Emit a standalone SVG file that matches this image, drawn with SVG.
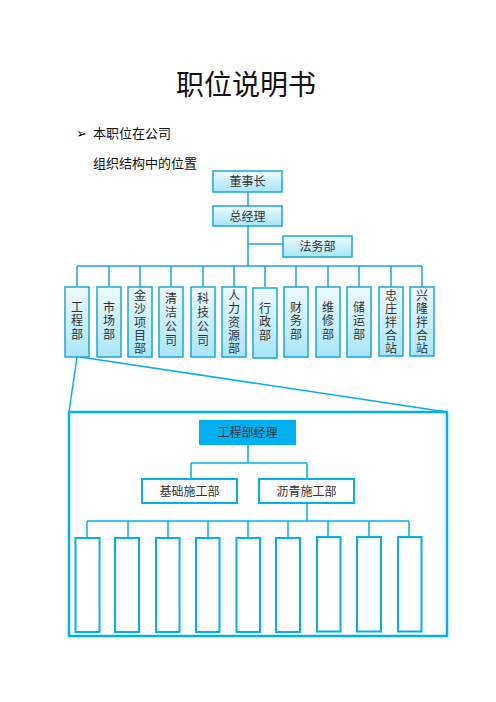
<svg xmlns="http://www.w3.org/2000/svg" width="496" height="702" viewBox="0 0 496 702">
<style>
.t{font-family:"Noto Sans CJK SC","Noto Sans",sans-serif;fill:#333}
.ln{stroke:#1aa6dc;stroke-width:1.5;fill:none}
.ln2{stroke:#00b0f0;stroke-width:1.5;fill:none}
.box{fill:url(#g);stroke:#1aa6dc;stroke-width:1.5}
.wb{fill:#fff;stroke:#00b0f0;stroke-width:2}
.v{font-size:12px;text-anchor:middle}
</style>
<defs>
<linearGradient id="g" x1="0" y1="0" x2="0" y2="1">
<stop offset="0" stop-color="#eefafe"/>
<stop offset="1" stop-color="#a8e6f8"/>
</linearGradient>
</defs>
<text class="t" x="246" y="95" font-size="28" text-anchor="middle" style="fill:#111">职位说明书</text>
<text x="76" y="138" font-size="13" font-family="DejaVu Sans,sans-serif" fill="#000">➢</text>
<text class="t" x="93" y="138" font-size="13" style="fill:#111">本职位在公司</text>
<text class="t" x="93" y="168" font-size="13" style="fill:#111">组织结构中的位置</text>

<g id="connectors">
<path class="ln" d="M248,192V206M248,226V266M248,244H283M77,266H422"/>
<path class="ln" d="M77,266V287M109,266V287M140,266V287M171,266V287M203,266V287M234,266V287M265,266V287M296,266V287M328,266V287M359,266V287M391,266V287M422,266V287"/>
<path class="ln2" d="M77,357L69,412M80,357L447,412" stroke-width="2"/>
<path class="ln2" d="M248,445V463M191,463H307M191,463V479M307,463V479M307,503V521M87,521H409"/>
<path class="ln2" d="M87,521V538M128,521V538M168,521V538M208,521V538M248,521V538M288,521V538M328,521V537M369,521V537M409,521V537"/>
</g>

<g id="n-dongshizhang"><rect class="box" x="213" y="171" width="69" height="21"/><text class="t" x="247.5" y="186" font-size="12" text-anchor="middle">董事长</text></g>
<g id="n-zongjingli"><rect class="box" x="213" y="206" width="69" height="20"/><text class="t" x="247.5" y="220.5" font-size="12" text-anchor="middle">总经理</text></g>
<g id="n-fawubu"><rect class="box" x="283" y="236" width="69" height="21"/><text class="t" x="317.5" y="251" font-size="12" text-anchor="middle">法务部</text></g>

<g id="n-gongchengbu"><rect class="box" x="65" y="287" width="24" height="70"/><text class="t v"><tspan x="77" y="312">工</tspan><tspan x="77" y="325.3">程</tspan><tspan x="77" y="338.6">部</tspan></text></g>
<g id="n-shichangbu"><rect class="box" x="97" y="287" width="24" height="70"/><text class="t v"><tspan x="109" y="312">市</tspan><tspan x="109" y="325.3">场</tspan><tspan x="109" y="338.6">部</tspan></text></g>
<g id="n-jinsha"><rect class="box" x="128" y="287" width="24" height="70"/><text class="t v"><tspan x="140" y="300">金</tspan><tspan x="140" y="313.3">沙</tspan><tspan x="140" y="326.6">项</tspan><tspan x="140" y="339.9">目</tspan><tspan x="140" y="353">部</tspan></text></g>
<g id="n-qingjie"><rect class="box" x="159" y="287" width="24" height="70"/><text class="t v"><tspan x="171" y="303">清</tspan><tspan x="171" y="317">洁</tspan><tspan x="171" y="331">公</tspan><tspan x="171" y="345">司</tspan></text></g>
<g id="n-keji"><rect class="box" x="191" y="287" width="24" height="70"/><text class="t v"><tspan x="203" y="303">科</tspan><tspan x="203" y="317">技</tspan><tspan x="203" y="331">公</tspan><tspan x="203" y="345">司</tspan></text></g>
<g id="n-renli"><rect class="box" x="222" y="287" width="24" height="70"/><text class="t v"><tspan x="234" y="300">人</tspan><tspan x="234" y="313.3">力</tspan><tspan x="234" y="326.6">资</tspan><tspan x="234" y="339.9">源</tspan><tspan x="234" y="353">部</tspan></text></g>
<g id="n-xingzheng"><rect class="box" x="253" y="288" width="24" height="70"/><text class="t v"><tspan x="265" y="313">行</tspan><tspan x="265" y="326.3">政</tspan><tspan x="265" y="339.6">部</tspan></text></g>
<g id="n-caiwu"><rect class="box" x="284" y="287" width="24" height="70"/><text class="t v"><tspan x="296" y="312">财</tspan><tspan x="296" y="325.3">务</tspan><tspan x="296" y="338.6">部</tspan></text></g>
<g id="n-weixiu"><rect class="box" x="316" y="287" width="24" height="70"/><text class="t v"><tspan x="328" y="312">维</tspan><tspan x="328" y="325.3">修</tspan><tspan x="328" y="338.6">部</tspan></text></g>
<g id="n-chuyun"><rect class="box" x="347" y="287" width="24" height="70"/><text class="t v"><tspan x="359" y="312">储</tspan><tspan x="359" y="325.3">运</tspan><tspan x="359" y="338.6">部</tspan></text></g>
<g id="n-zhongzhuang"><rect class="box" x="379" y="287" width="24" height="69"/><text class="t v"><tspan x="391" y="300">忠</tspan><tspan x="391" y="313.3">庄</tspan><tspan x="391" y="326.6">拌</tspan><tspan x="391" y="339.9">合</tspan><tspan x="391" y="353">站</tspan></text></g>
<g id="n-xinglong"><rect class="box" x="410" y="287" width="24" height="69"/><text class="t v"><tspan x="422" y="300">兴</tspan><tspan x="422" y="313.3">隆</tspan><tspan x="422" y="326.6">拌</tspan><tspan x="422" y="339.9">合</tspan><tspan x="422" y="353">站</tspan></text></g>

<g id="n-detail"><rect x="69" y="412" width="378" height="224" fill="none" stroke="#00b0f0" stroke-width="2.5"/></g>
<g id="n-jingli"><rect x="199" y="420" width="97" height="25" fill="#00b0f0"/><text class="t" x="247.5" y="437" font-size="12" text-anchor="middle">工程部经理</text></g>
<g id="n-jichu"><rect class="wb" x="142" y="479" width="95" height="24"/><text class="t" x="189.5" y="495.5" font-size="12" text-anchor="middle">基础施工部</text></g>
<g id="n-liqing"><rect class="wb" x="259" y="479" width="95" height="24"/><text class="t" x="306.5" y="495.5" font-size="12" text-anchor="middle">沥青施工部</text></g>

<g id="n-s1"><rect class="wb" x="75.5" y="538" width="24" height="94"/></g>
<g id="n-s2"><rect class="wb" x="115" y="538" width="24" height="94"/></g>
<g id="n-s3"><rect class="wb" x="156" y="538" width="23.5" height="94"/></g>
<g id="n-s4"><rect class="wb" x="196" y="538" width="23.5" height="94"/></g>
<g id="n-s5"><rect class="wb" x="236.5" y="538" width="23.5" height="94"/></g>
<g id="n-s6"><rect class="wb" x="276" y="538" width="24" height="94"/></g>
<g id="n-s7"><rect class="wb" x="317" y="537" width="23.5" height="94.5"/></g>
<g id="n-s8"><rect class="wb" x="357" y="537" width="24" height="94.5"/></g>
<g id="n-s9"><rect class="wb" x="398" y="537" width="23.5" height="94.5"/></g>
</svg>
